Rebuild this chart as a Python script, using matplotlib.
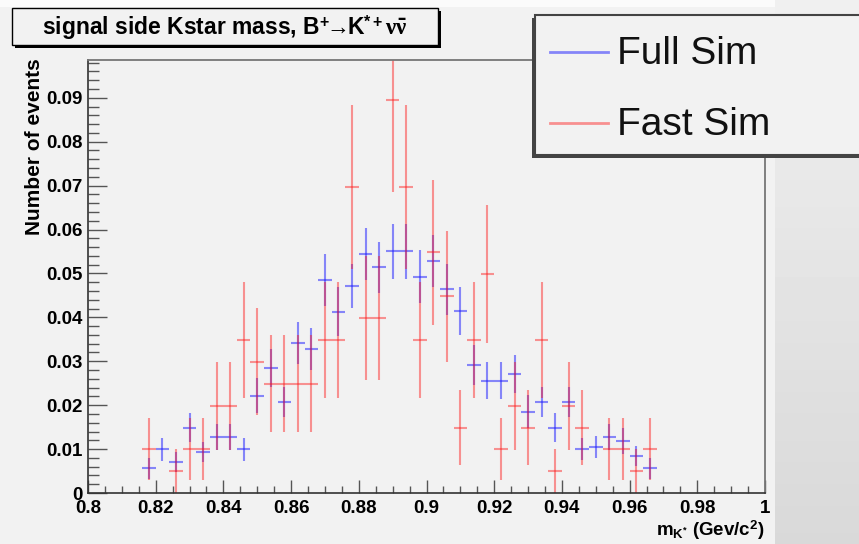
import numpy as np
import matplotlib
matplotlib.use("Agg")
import matplotlib.pyplot as plt
from matplotlib.patches import Rectangle
from matplotlib.lines import Line2D
from matplotlib.ticker import MultipleLocator, FuncFormatter

# bin centres of the K* mass histogram (bin width 0.004)
mass = [0.818, 0.822, 0.826, 0.830, 0.834, 0.838, 0.842, 0.846, 0.850, 0.854,
        0.858, 0.862, 0.866, 0.870, 0.874, 0.878, 0.882, 0.886, 0.890, 0.894,
        0.898, 0.902, 0.906, 0.910, 0.914, 0.918, 0.922, 0.926, 0.930, 0.934,
        0.938, 0.942, 0.946, 0.950, 0.954, 0.958, 0.962, 0.966]
bin_width = 0.004

full_sim = [0.0056, 0.0100, 0.0071, 0.0149, 0.0094, 0.0128, 0.0128, 0.0100, 0.0222, 0.0285,
            0.0207, 0.0342, 0.0328, 0.0485, 0.0413, 0.0472, 0.0544, 0.0514, 0.0550, 0.0550,
            0.0493, 0.0528, 0.0464, 0.0414, 0.0292, 0.0256, 0.0256, 0.0271, 0.0185, 0.0207,
            0.0149, 0.0207, 0.0100, 0.0105, 0.0128, 0.0119, 0.0084, 0.0056]
full_err = [0.0023, 0.0026, 0.0023, 0.0033, 0.0023, 0.0030, 0.0030, 0.0026, 0.0040, 0.0043,
            0.0035, 0.0048, 0.0048, 0.0060, 0.0056, 0.0050, 0.0060, 0.0058, 0.0062, 0.0062,
            0.0060, 0.0060, 0.0058, 0.0055, 0.0045, 0.0042, 0.0042, 0.0043, 0.0038, 0.0035,
            0.0033, 0.0035, 0.0025, 0.0025, 0.0030, 0.0030, 0.0023, 0.0023]

nan = float("nan")
fast_sim = [0.0100, nan, 0.0050, 0.0100, 0.0100, 0.0199, 0.0199, 0.0349, 0.0299, 0.0249,
            0.0249, 0.0249, 0.0249, 0.0349, 0.0349, 0.0697, 0.0398, 0.0398, 0.0896, 0.0697,
            0.0349, 0.0548, 0.0448, 0.0149, 0.0349, 0.0498, 0.0100, 0.0199, 0.0149, 0.0349,
            0.0050, 0.0199, 0.0149, nan, 0.0100, 0.0100, 0.0050, 0.0100]
fast_err = [0.0070, nan, 0.0050, 0.0070, 0.0070, 0.0100, 0.0100, 0.0132, 0.0122, 0.0111,
            0.0111, 0.0111, 0.0111, 0.0132, 0.0132, 0.0186, 0.0141, 0.0141, 0.0211, 0.0186,
            0.0132, 0.0165, 0.0149, 0.0086, 0.0132, 0.0157, 0.0070, 0.0100, 0.0086, 0.0132,
            0.0050, 0.0100, 0.0086, nan, 0.0070, 0.0070, 0.0050, 0.0070]

W, H = 859, 544
BG = "#f2f2f2"
BLUE = (0.1, 0.1, 1.0, 0.5)
RED = (1.0, 0.1, 0.1, 0.45)

plt.rcParams["font.family"] = ["Liberation Sans", "DejaVu Sans"]
plt.rcParams["font.weight"] = "bold"
plt.rcParams["mathtext.fontset"] = "custom"
plt.rcParams["mathtext.rm"] = "Liberation Sans:bold"
plt.rcParams["mathtext.bf"] = "Liberation Sans:bold"
plt.rcParams["mathtext.it"] = "Liberation Serif"


def fx(x):
    return x / W


def fy(y):
    return 1 - y / H


fig = plt.figure(figsize=(W / 100, H / 100), dpi=100, facecolor=BG)

# grey strip on the right and light strip on top of the canvas
side = fig.add_axes([fx(775), 0, 1 - fx(775), 1])
side.imshow(np.linspace(0.94, 0.85, 100)[:, None], cmap="gray", vmin=0, vmax=1,
            aspect="auto", extent=[0, 1, 0, 1])
side.axis("off")
fig.patches.append(Rectangle((0, fy(7)), fx(775), 1 - fy(7), transform=fig.transFigure,
                             facecolor="#fbfbfb", edgecolor="none", zorder=0))

ax = fig.add_axes([fx(88), fy(493), fx(765) - fx(88), fy(60) - fy(493)])
ax.set_facecolor(BG)

ax.errorbar(mass, full_sim, xerr=bin_width / 2, yerr=full_err, fmt="none",
            ecolor=BLUE, elinewidth=1.5, capsize=0)
ax.errorbar(mass, fast_sim, xerr=bin_width / 2, yerr=fast_err, fmt="none",
            ecolor=RED, elinewidth=1.5, capsize=0)

ax.set_xlim(0.8, 1.0)
ax.set_ylim(0, 0.0986)
ax.xaxis.set_major_locator(MultipleLocator(0.02))
ax.xaxis.set_minor_locator(MultipleLocator(0.005))
ax.yaxis.set_major_locator(MultipleLocator(0.01))
ax.yaxis.set_minor_locator(MultipleLocator(0.002))
fmt = FuncFormatter(lambda v, p: "%g" % round(v, 3))
ax.xaxis.set_major_formatter(fmt)
ax.yaxis.set_major_formatter(fmt)
ax.tick_params(which="both", direction="in", top=False, right=False,
               color="#555555", width=1, labelsize=13.5)
ax.tick_params(axis="x", which="major", length=9.5, pad=5)
ax.tick_params(axis="x", which="minor", length=5)
ax.tick_params(axis="y", which="major", length=14, pad=4)
ax.tick_params(axis="y", which="minor", length=8)
for s in ("left", "bottom"):
    ax.spines[s].set_color("#333333")
    ax.spines[s].set_linewidth(1.2)
for s in ("top", "right"):
    ax.spines[s].set_color("#777777")
    ax.spines[s].set_linewidth(1.3)

fig.text(fx(35), fy(58), "Number of events", rotation=90, ha="center", va="top",
         fontsize=15, fontweight="bold")
fig.text(fx(765), fy(536), r"$\mathrm{m_{K^{*}}}$ (Gev/c$^{2}$)", ha="right",
         va="baseline", fontsize=13.5, fontweight="bold")

# title box with shadow
fig.patches.append(Rectangle((fx(15), fy(48)), fx(438) - fx(12), fy(8) - fy(45),
                             transform=fig.transFigure, facecolor="black",
                             edgecolor="none", zorder=2))
fig.patches.append(Rectangle((fx(12), fy(45)), fx(438) - fx(12), fy(8) - fy(45),
                             transform=fig.transFigure, facecolor=BG,
                             edgecolor="black", linewidth=1, zorder=2))
fig.text(fx(225), fy(28),
         r"signal side Kstar mass, B$^{+}\!\!\rightarrow\!\!$K$^{*+}$$\nu\bar{\nu}$",
         ha="center", va="center", fontsize=16.5, fontweight="bold", zorder=3)

# legend box
fig.patches.append(Rectangle((fx(532), fy(158)), 1.0, fy(18) - fy(158),
                             transform=fig.transFigure, facecolor="#444444",
                             edgecolor="none", zorder=2))
fig.patches.append(Rectangle((fx(535), fy(155)), 1.0, fy(15) - fy(155),
                             transform=fig.transFigure, facecolor=BG,
                             edgecolor="#444444", linewidth=1.5, zorder=2))
for label, color, y in (("Full Sim", BLUE, 52), ("Fast Sim", RED, 123)):
    fig.lines.append(Line2D([fx(550), fx(608)], [fy(y), fy(y)], color=color,
                            linewidth=2, transform=fig.transFigure, zorder=3))
    fig.text(fx(617), fy(y + 2), label, ha="left", va="center", fontsize=28,
             fontweight="normal", color="#111111", zorder=3)

fig.savefig("out.png", dpi=100, facecolor=BG)
